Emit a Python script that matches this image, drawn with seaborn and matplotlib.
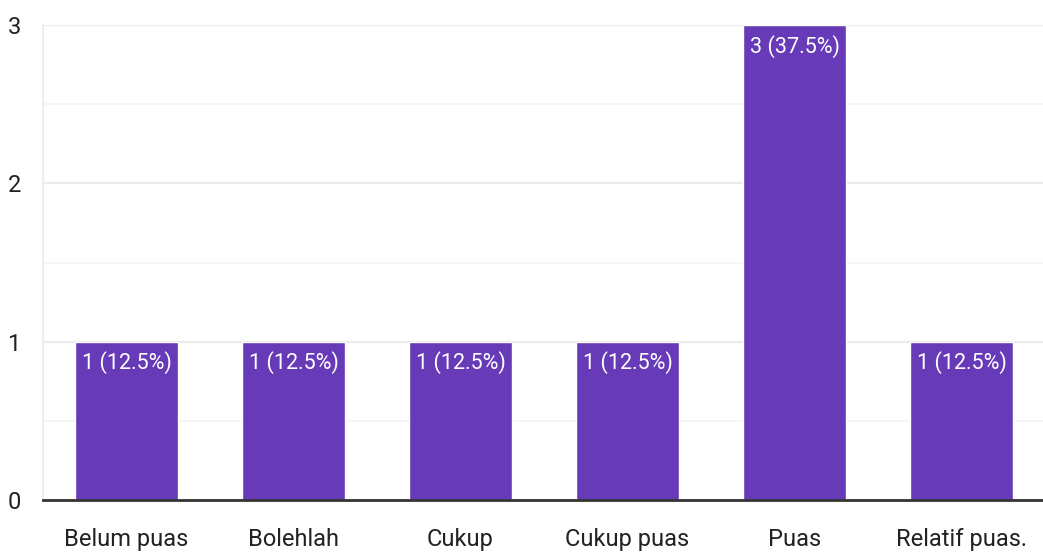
import matplotlib
matplotlib.use("Agg")
import matplotlib.pyplot as plt
import seaborn as sns
import pandas as pd
from matplotlib.ticker import MultipleLocator

# ---- data ----
categories = ["Belum puas", "Bolehlah", "Cukup", "Cukup puas", "Puas", "Relatif puas."]
counts = [1, 1, 1, 1, 3, 1]
total = sum(counts)
labels = [f"{c} ({c / total * 100:.1f}%)" for c in counts]

df = pd.DataFrame({"kategori": categories, "jumlah": counts})

sns.set_style("white")
plt.rcParams["font.family"] = ["Roboto", "DejaVu Sans"]

fig = plt.figure(figsize=(10.43, 5.56), dpi=100)
ax = fig.add_axes([43 / 1043, 56 / 556, 1002 / 1043, 475 / 556])

sns.barplot(data=df, x="kategori", y="jumlah", color="#673AB7", width=0.62,
            saturation=1, ax=ax)

# labels inside top of bars
for patch, lab in zip(ax.patches, labels):
    ax.annotate(lab, (patch.get_x() + patch.get_width() / 2, patch.get_height()),
                xytext=(0, -7), textcoords="offset points", ha="center", va="top",
                color="white", fontsize=15.5)

ax.set_ylim(0, 3)
ax.set_xlim(-0.5, len(categories) - 0.5)
ax.yaxis.set_major_locator(MultipleLocator(1))
ax.yaxis.set_minor_locator(MultipleLocator(0.5))
ax.grid(axis="y", which="major", color="#ebebeb", linewidth=1.6)
ax.grid(axis="y", which="minor", color="#f3f3f3", linewidth=1.2)
ax.set_axisbelow(True)

for side in ["top", "right"]:
    ax.spines[side].set_visible(False)
ax.spines["left"].set_color("#eeeeee")
ax.spines["left"].set_linewidth(1.5)
ax.spines["bottom"].set_color("#333333")
ax.spines["bottom"].set_linewidth(2)

ax.set_xlabel("")
ax.set_ylabel("")
ax.tick_params(axis="x", length=0, pad=20, labelsize=17, labelcolor="#222222")
ax.tick_params(axis="y", which="both", length=0, pad=16, labelsize=17, labelcolor="#222222")

fig.savefig("out.png", dpi=100)
